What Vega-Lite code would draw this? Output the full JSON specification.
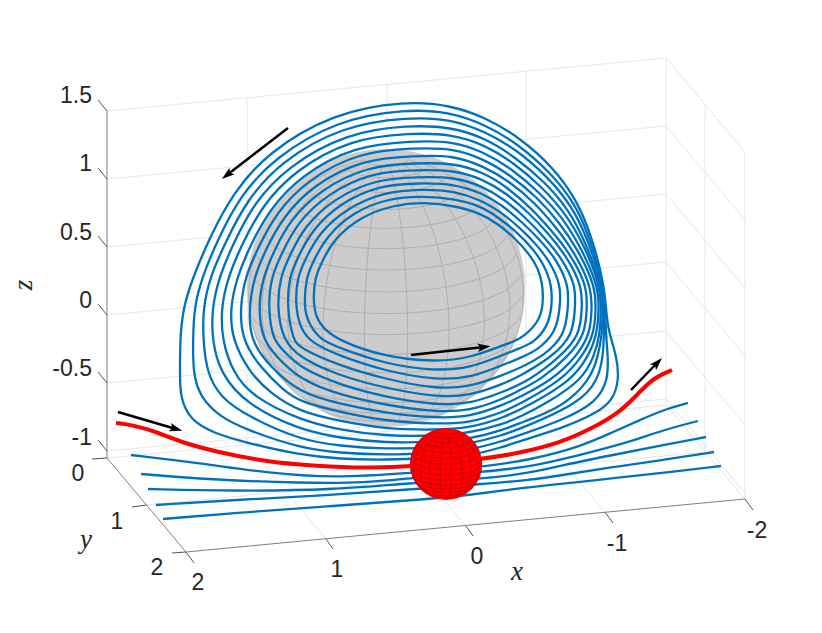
{"$schema":"https://vega.github.io/schema/vega-lite/v6.json","width":822,"height":633,"autosize":{"type":"fit","contains":"padding"},"padding":0,"background":"white","view":{"stroke":null},
"encoding":{"x":{"field":"u","type":"quantitative","scale":{"domain":[0,822],"nice":false,"zero":false},"axis":null},"y":{"field":"v","type":"quantitative","scale":{"domain":[633,0],"nice":false,"zero":false},"axis":null}},
"datasets":{
"frame":[
{"c":"g","u":247,"v":98,"u2":247,"v2":445},{"c":"g","u":387,"v":84,"u2":387,"v2":432},{"c":"g","u":526,"v":71,"u2":526,"v2":419},{"c":"g","u":666,"v":58,"u2":666,"v2":405},
{"c":"g","u":107,"v":111,"u2":666,"v2":58},{"c":"g","u":107,"v":179,"u2":666,"v2":126},{"c":"g","u":107,"v":247,"u2":666,"v2":194},{"c":"g","u":107,"v":315,"u2":666,"v2":262},{"c":"g","u":107,"v":383,"u2":666,"v2":331},{"c":"g","u":107,"v":451,"u2":666,"v2":399},
{"c":"g","u":666,"v":58,"u2":745,"v2":152},{"c":"g","u":666,"v":126,"u2":745,"v2":220},{"c":"g","u":666,"v":194,"u2":745,"v2":288},{"c":"g","u":666,"v":262,"u2":745,"v2":356},{"c":"g","u":666,"v":331,"u2":745,"v2":425},{"c":"g","u":666,"v":399,"u2":745,"v2":493},
{"c":"g","u":705,"v":105,"u2":705,"v2":452},{"c":"g","u":745,"v":152,"u2":745,"v2":499},
{"c":"g","u":247,"v":445,"u2":326,"v2":539},{"c":"g","u":387,"v":432,"u2":466,"v2":526},{"c":"g","u":526,"v":419,"u2":605,"v2":512},{"c":"g","u":666,"v":405,"u2":745,"v2":499},
{"c":"g","u":107,"v":458,"u2":666,"v2":405},{"c":"g","u":146.5,"v":505,"u2":705.5,"v2":452},
{"c":"a","u":107,"v":111,"u2":107,"v2":458},{"c":"a","u":107,"v":458,"u2":186,"v2":552},{"c":"a","u":186,"v":552,"u2":745,"v2":499},
{"c":"t","u":107,"v":111,"u2":98,"v2":100},{"c":"t","u":107,"v":179,"u2":98,"v2":168},{"c":"t","u":107,"v":247,"u2":98,"v2":236},{"c":"t","u":107,"v":315,"u2":98,"v2":304},{"c":"t","u":107,"v":383,"u2":98,"v2":372},{"c":"t","u":107,"v":451,"u2":98,"v2":440},
{"c":"t","u":107,"v":458,"u2":92,"v2":459},{"c":"t","u":146.5,"v":505,"u2":132,"v2":507},{"c":"t","u":186,"v":552,"u2":172,"v2":553},
{"c":"t","u":186,"v":552,"u2":194,"v2":563},{"c":"t","u":326,"v":539,"u2":333,"v2":549},{"c":"t","u":466,"v":526,"u2":473,"v2":536},{"c":"t","u":605,"v":512,"u2":613,"v2":523},{"c":"t","u":745,"v":499,"u2":753,"v2":510}],
"balls":[{"b":"grey","u":386,"v":288,"s":77284},{"b":"red","u":446,"v":464,"s":5184}],
"mesh":[
{"lat":81,"lon":-81,"u":364.6,"v":159.7},{"lat":81,"lon":-63,"u":366.7,"v":161.9},{"lat":81,"lon":-45,"u":370.7,"v":163.8},{"lat":81,"lon":-27,"u":376.1,"v":165.1},{"lat":81,"lon":-9,"u":382.6,"v":165.8},{"lat":81,"lon":9,"u":389.4,"v":165.8},{"lat":81,"lon":27,"u":395.9,"v":165.1},{"lat":81,"lon":45,"u":401.3,"v":163.8},{"lat":81,"lon":63,"u":405.3,"v":161.9},{"lat":81,"lon":81,"u":407.4,"v":159.7},
{"lat":72,"lon":-81,"u":343.5,"v":165.6},{"lat":72,"lon":-63,"u":347.7,"v":169.9},{"lat":72,"lon":-45,"u":355.6,"v":173.6},{"lat":72,"lon":-27,"u":366.5,"v":176.2},{"lat":72,"lon":-9,"u":379.3,"v":177.6},{"lat":72,"lon":9,"u":392.7,"v":177.6},{"lat":72,"lon":27,"u":405.5,"v":176.2},{"lat":72,"lon":45,"u":416.4,"v":173.6},{"lat":72,"lon":63,"u":424.3,"v":169.9},{"lat":72,"lon":81,"u":428.5,"v":165.6},
{"lat":63,"lon":-81,"u":323.7,"v":174.6},{"lat":63,"lon":-63,"u":329.8,"v":180.9},{"lat":63,"lon":-45,"u":341.4,"v":186.3},{"lat":63,"lon":-27,"u":357.4,"v":190.2},{"lat":63,"lon":-9,"u":376.2,"v":192.2},{"lat":63,"lon":9,"u":395.8,"v":192.2},{"lat":63,"lon":27,"u":414.6,"v":190.2},{"lat":63,"lon":45,"u":430.6,"v":186.3},{"lat":63,"lon":63,"u":442.2,"v":180.9},{"lat":63,"lon":81,"u":448.3,"v":174.6},
{"lat":54,"lon":-81,"u":305.3,"v":186.3},{"lat":54,"lon":-63,"u":313.2,"v":194.4},{"lat":54,"lon":-45,"u":328.2,"v":201.4},{"lat":54,"lon":-27,"u":348.9,"v":206.4},{"lat":54,"lon":-9,"u":373.3,"v":209.1},{"lat":54,"lon":9,"u":398.7,"v":209.1},{"lat":54,"lon":27,"u":423.1,"v":206.4},{"lat":54,"lon":45,"u":443.8,"v":201.4},{"lat":54,"lon":63,"u":458.8,"v":194.4},{"lat":54,"lon":81,"u":466.7,"v":186.3},
{"lat":45,"lon":-81,"u":288.9,"v":200.5},{"lat":45,"lon":-63,"u":298.4,"v":210.3},{"lat":45,"lon":-45,"u":316.5,"v":218.7},{"lat":45,"lon":-27,"u":341.4,"v":224.7},{"lat":45,"lon":-9,"u":370.7,"v":227.9},{"lat":45,"lon":9,"u":401.3,"v":227.9},{"lat":45,"lon":27,"u":430.6,"v":224.7},{"lat":45,"lon":45,"u":455.5,"v":218.7},{"lat":45,"lon":63,"u":473.6,"v":210.3},{"lat":45,"lon":81,"u":483.1,"v":200.5},
{"lat":36,"lon":-81,"u":274.8,"v":216.9},{"lat":36,"lon":-63,"u":285.8,"v":228.1},{"lat":36,"lon":-45,"u":306.5,"v":237.7},{"lat":36,"lon":-27,"u":334.9,"v":244.6},{"lat":36,"lon":-9,"u":368.4,"v":248.2},{"lat":36,"lon":9,"u":403.6,"v":248.2},{"lat":36,"lon":27,"u":437.1,"v":244.6},{"lat":36,"lon":45,"u":465.5,"v":237.7},{"lat":36,"lon":63,"u":486.2,"v":228.1},{"lat":36,"lon":81,"u":497.2,"v":216.9},
{"lat":27,"lon":-81,"u":263.7,"v":235},{"lat":27,"lon":-63,"u":275.7,"v":247.3},{"lat":27,"lon":-45,"u":298.5,"v":257.8},{"lat":27,"lon":-27,"u":329.8,"v":265.5},{"lat":27,"lon":-9,"u":366.7,"v":269.5},{"lat":27,"lon":9,"u":405.3,"v":269.5},{"lat":27,"lon":27,"u":442.2,"v":265.5},{"lat":27,"lon":45,"u":473.5,"v":257.8},{"lat":27,"lon":63,"u":496.3,"v":247.3},{"lat":27,"lon":81,"u":508.3,"v":235},
{"lat":18,"lon":-81,"u":255.4,"v":254.4},{"lat":18,"lon":-63,"u":268.2,"v":267.6},{"lat":18,"lon":-45,"u":292.5,"v":278.8},{"lat":18,"lon":-27,"u":326,"v":287},{"lat":18,"lon":-9,"u":365.4,"v":291.3},{"lat":18,"lon":9,"u":406.6,"v":291.3},{"lat":18,"lon":27,"u":446,"v":287},{"lat":18,"lon":45,"u":479.5,"v":278.8},{"lat":18,"lon":63,"u":503.8,"v":267.6},{"lat":18,"lon":81,"u":516.6,"v":254.4},
{"lat":9,"lon":-81,"u":250.3,"v":274.8},{"lat":9,"lon":-63,"u":263.7,"v":288.5},{"lat":9,"lon":-45,"u":288.9,"v":300.1},{"lat":9,"lon":-27,"u":323.7,"v":308.6},{"lat":9,"lon":-9,"u":364.6,"v":313},{"lat":9,"lon":9,"u":407.4,"v":313},{"lat":9,"lon":27,"u":448.3,"v":308.6},{"lat":9,"lon":45,"u":483.1,"v":300.1},{"lat":9,"lon":63,"u":508.3,"v":288.5},{"lat":9,"lon":81,"u":521.7,"v":274.8},
{"lat":0,"lon":-81,"u":248.7,"v":295.3},{"lat":0,"lon":-63,"u":262.2,"v":309.2},{"lat":0,"lon":-45,"u":287.7,"v":320.9},{"lat":0,"lon":-27,"u":322.9,"v":329.5},{"lat":0,"lon":-9,"u":364.3,"v":334},{"lat":0,"lon":9,"u":407.7,"v":334},{"lat":0,"lon":27,"u":449.1,"v":329.5},{"lat":0,"lon":45,"u":484.3,"v":320.9},{"lat":0,"lon":63,"u":509.8,"v":309.2},{"lat":0,"lon":81,"u":523.3,"v":295.3},
{"lat":-9,"lon":-81,"u":250.3,"v":315.6},{"lat":-9,"lon":-63,"u":263.7,"v":329.3},{"lat":-9,"lon":-45,"u":288.9,"v":340.9},{"lat":-9,"lon":-27,"u":323.7,"v":349.4},{"lat":-9,"lon":-9,"u":364.6,"v":353.8},{"lat":-9,"lon":9,"u":407.4,"v":353.8},{"lat":-9,"lon":27,"u":448.3,"v":349.4},{"lat":-9,"lon":45,"u":483.1,"v":340.9},{"lat":-9,"lon":63,"u":508.3,"v":329.3},{"lat":-9,"lon":81,"u":521.7,"v":315.6},
{"lat":-18,"lon":-81,"u":255.4,"v":335.4},{"lat":-18,"lon":-63,"u":268.2,"v":348.6},{"lat":-18,"lon":-45,"u":292.5,"v":359.8},{"lat":-18,"lon":-27,"u":326,"v":368},{"lat":-18,"lon":-9,"u":365.4,"v":372.3},{"lat":-18,"lon":9,"u":406.6,"v":372.3},{"lat":-18,"lon":27,"u":446,"v":368},{"lat":-18,"lon":45,"u":479.5,"v":359.8},{"lat":-18,"lon":63,"u":503.8,"v":348.6},{"lat":-18,"lon":81,"u":516.6,"v":335.4},
{"lat":-27,"lon":-81,"u":263.7,"v":354},{"lat":-27,"lon":-63,"u":275.7,"v":366.3},{"lat":-27,"lon":-45,"u":298.5,"v":376.8},{"lat":-27,"lon":-27,"u":329.8,"v":384.5},{"lat":-27,"lon":-9,"u":366.7,"v":388.5},{"lat":-27,"lon":9,"u":405.3,"v":388.5},{"lat":-27,"lon":27,"u":442.2,"v":384.5},{"lat":-27,"lon":45,"u":473.5,"v":376.8},{"lat":-27,"lon":63,"u":496.3,"v":366.3},{"lat":-27,"lon":81,"u":508.3,"v":354},
{"lat":-36,"lon":-81,"u":274.8,"v":370.9},{"lat":-36,"lon":-63,"u":285.8,"v":382.1},{"lat":-36,"lon":-45,"u":306.5,"v":391.7},{"lat":-36,"lon":-27,"u":334.9,"v":398.6},{"lat":-36,"lon":-9,"u":368.4,"v":402.2},{"lat":-36,"lon":9,"u":403.6,"v":402.2},{"lat":-36,"lon":27,"u":437.1,"v":398.6},{"lat":-36,"lon":45,"u":465.5,"v":391.7},{"lat":-36,"lon":63,"u":486.2,"v":382.1},{"lat":-36,"lon":81,"u":497.2,"v":370.9},
{"lat":-45,"lon":-63,"u":298.4,"v":395.5},{"lat":-45,"lon":-45,"u":316.5,"v":403.9},{"lat":-45,"lon":-27,"u":341.4,"v":409.9},{"lat":-45,"lon":-9,"u":370.7,"v":413.1},{"lat":-45,"lon":9,"u":401.3,"v":413.1},{"lat":-45,"lon":27,"u":430.6,"v":409.9},{"lat":-45,"lon":45,"u":455.5,"v":403.9},{"lat":-45,"lon":63,"u":473.6,"v":395.5},
{"lat":-54,"lon":-45,"u":328.2,"v":413.4},{"lat":-54,"lon":-27,"u":348.9,"v":418.4},{"lat":-54,"lon":-9,"u":373.3,"v":421.1},{"lat":-54,"lon":9,"u":398.7,"v":421.1},{"lat":-54,"lon":27,"u":423.1,"v":418.4},{"lat":-54,"lon":45,"u":443.8,"v":413.4}],
"ballmesh":[
{"lat":72,"lon":-81,"u":435,"v":431.3},{"lat":72,"lon":-63,"u":436.1,"v":432.4},{"lat":72,"lon":-45,"u":438.1,"v":433.4},{"lat":72,"lon":-27,"u":440.9,"v":434},{"lat":72,"lon":-9,"u":444.3,"v":434.4},{"lat":72,"lon":9,"u":447.7,"v":434.4},{"lat":72,"lon":27,"u":451.1,"v":434},{"lat":72,"lon":45,"u":453.9,"v":433.4},{"lat":72,"lon":63,"u":455.9,"v":432.4},{"lat":72,"lon":81,"u":457,"v":431.3},
{"lat":63,"lon":-81,"u":429.9,"v":433.6},{"lat":63,"lon":-63,"u":431.4,"v":435.3},{"lat":63,"lon":-45,"u":434.4,"v":436.7},{"lat":63,"lon":-27,"u":438.6,"v":437.7},{"lat":63,"lon":-9,"u":443.5,"v":438.2},{"lat":63,"lon":9,"u":448.5,"v":438.2},{"lat":63,"lon":27,"u":453.4,"v":437.7},{"lat":63,"lon":45,"u":457.6,"v":436.7},{"lat":63,"lon":63,"u":460.6,"v":435.3},{"lat":63,"lon":81,"u":462.1,"v":433.6},
{"lat":54,"lon":-81,"u":425.1,"v":436.7},{"lat":54,"lon":-63,"u":427.1,"v":438.8},{"lat":54,"lon":-45,"u":431,"v":440.6},{"lat":54,"lon":-27,"u":436.4,"v":441.9},{"lat":54,"lon":-9,"u":442.7,"v":442.6},{"lat":54,"lon":9,"u":449.3,"v":442.6},{"lat":54,"lon":27,"u":455.6,"v":441.9},{"lat":54,"lon":45,"u":461,"v":440.6},{"lat":54,"lon":63,"u":464.9,"v":438.8},{"lat":54,"lon":81,"u":466.9,"v":436.7},
{"lat":45,"lon":-81,"u":420.9,"v":440.3},{"lat":45,"lon":-63,"u":423.3,"v":442.9},{"lat":45,"lon":-45,"u":428,"v":445.1},{"lat":45,"lon":-27,"u":434.4,"v":446.6},{"lat":45,"lon":-9,"u":442,"v":447.4},{"lat":45,"lon":9,"u":450,"v":447.4},{"lat":45,"lon":27,"u":457.6,"v":446.6},{"lat":45,"lon":45,"u":464,"v":445.1},{"lat":45,"lon":63,"u":468.7,"v":442.9},{"lat":45,"lon":81,"u":471.1,"v":440.3},
{"lat":36,"lon":-81,"u":417.2,"v":444.6},{"lat":36,"lon":-63,"u":420,"v":447.5},{"lat":36,"lon":-45,"u":425.4,"v":450},{"lat":36,"lon":-27,"u":432.8,"v":451.8},{"lat":36,"lon":-9,"u":441.4,"v":452.7},{"lat":36,"lon":9,"u":450.6,"v":452.7},{"lat":36,"lon":27,"u":459.2,"v":451.8},{"lat":36,"lon":45,"u":466.6,"v":450},{"lat":36,"lon":63,"u":472,"v":447.5},{"lat":36,"lon":81,"u":474.8,"v":444.6},
{"lat":27,"lon":-81,"u":414.3,"v":449.3},{"lat":27,"lon":-63,"u":417.4,"v":452.5},{"lat":27,"lon":-45,"u":423.3,"v":455.2},{"lat":27,"lon":-27,"u":431.4,"v":457.2},{"lat":27,"lon":-9,"u":441,"v":458.2},{"lat":27,"lon":9,"u":451,"v":458.2},{"lat":27,"lon":27,"u":460.6,"v":457.2},{"lat":27,"lon":45,"u":468.7,"v":455.2},{"lat":27,"lon":63,"u":474.6,"v":452.5},{"lat":27,"lon":81,"u":477.7,"v":449.3},
{"lat":18,"lon":-81,"u":412.2,"v":454.3},{"lat":18,"lon":-63,"u":415.5,"v":457.7},{"lat":18,"lon":-45,"u":421.8,"v":460.6},{"lat":18,"lon":-27,"u":430.5,"v":462.7},{"lat":18,"lon":-9,"u":440.7,"v":463.9},{"lat":18,"lon":9,"u":451.3,"v":463.9},{"lat":18,"lon":27,"u":461.5,"v":462.7},{"lat":18,"lon":45,"u":470.2,"v":460.6},{"lat":18,"lon":63,"u":476.5,"v":457.7},{"lat":18,"lon":81,"u":479.8,"v":454.3},
{"lat":9,"lon":-81,"u":410.9,"v":459.6},{"lat":9,"lon":-63,"u":414.3,"v":463.1},{"lat":9,"lon":-45,"u":420.9,"v":466.1},{"lat":9,"lon":-27,"u":429.9,"v":468.3},{"lat":9,"lon":-9,"u":440.5,"v":469.5},{"lat":9,"lon":9,"u":451.5,"v":469.5},{"lat":9,"lon":27,"u":462.1,"v":468.3},{"lat":9,"lon":45,"u":471.1,"v":466.1},{"lat":9,"lon":63,"u":477.7,"v":463.1},{"lat":9,"lon":81,"u":481.1,"v":459.6},
{"lat":0,"lon":-81,"u":410.4,"v":464.9},{"lat":0,"lon":-63,"u":413.9,"v":468.5},{"lat":0,"lon":-45,"u":420.5,"v":471.5},{"lat":0,"lon":-27,"u":429.7,"v":473.7},{"lat":0,"lon":-9,"u":440.4,"v":474.9},{"lat":0,"lon":9,"u":451.6,"v":474.9},{"lat":0,"lon":27,"u":462.3,"v":473.7},{"lat":0,"lon":45,"u":471.5,"v":471.5},{"lat":0,"lon":63,"u":478.1,"v":468.5},{"lat":0,"lon":81,"u":481.6,"v":464.9},
{"lat":-9,"lon":-81,"u":410.9,"v":470.1},{"lat":-9,"lon":-63,"u":414.3,"v":473.7},{"lat":-9,"lon":-45,"u":420.9,"v":476.7},{"lat":-9,"lon":-27,"u":429.9,"v":478.9},{"lat":-9,"lon":-9,"u":440.5,"v":480},{"lat":-9,"lon":9,"u":451.5,"v":480},{"lat":-9,"lon":27,"u":462.1,"v":478.9},{"lat":-9,"lon":45,"u":471.1,"v":476.7},{"lat":-9,"lon":63,"u":477.7,"v":473.7},{"lat":-9,"lon":81,"u":481.1,"v":470.1},
{"lat":-18,"lon":-81,"u":412.2,"v":475.3},{"lat":-18,"lon":-63,"u":415.5,"v":478.7},{"lat":-18,"lon":-45,"u":421.8,"v":481.6},{"lat":-18,"lon":-27,"u":430.5,"v":483.7},{"lat":-18,"lon":-9,"u":440.7,"v":484.8},{"lat":-18,"lon":9,"u":451.3,"v":484.8},{"lat":-18,"lon":27,"u":461.5,"v":483.7},{"lat":-18,"lon":45,"u":470.2,"v":481.6},{"lat":-18,"lon":63,"u":476.5,"v":478.7},{"lat":-18,"lon":81,"u":479.8,"v":475.3},
{"lat":-27,"lon":-81,"u":414.3,"v":480.1},{"lat":-27,"lon":-63,"u":417.4,"v":483.3},{"lat":-27,"lon":-45,"u":423.3,"v":486},{"lat":-27,"lon":-27,"u":431.4,"v":488},{"lat":-27,"lon":-9,"u":441,"v":489},{"lat":-27,"lon":9,"u":451,"v":489},{"lat":-27,"lon":27,"u":460.6,"v":488},{"lat":-27,"lon":45,"u":468.7,"v":486},{"lat":-27,"lon":63,"u":474.6,"v":483.3},{"lat":-27,"lon":81,"u":477.7,"v":480.1},
{"lat":-36,"lon":-81,"u":417.2,"v":484.5},{"lat":-36,"lon":-63,"u":420,"v":487.4},{"lat":-36,"lon":-45,"u":425.4,"v":489.9},{"lat":-36,"lon":-27,"u":432.8,"v":491.6},{"lat":-36,"lon":-9,"u":441.4,"v":492.6},{"lat":-36,"lon":9,"u":450.6,"v":492.6},{"lat":-36,"lon":27,"u":459.2,"v":491.6},{"lat":-36,"lon":45,"u":466.6,"v":489.9},{"lat":-36,"lon":63,"u":472,"v":487.4},{"lat":-36,"lon":81,"u":474.8,"v":484.5},
{"lat":-45,"lon":-63,"u":423.3,"v":490.8},{"lat":-45,"lon":-45,"u":428,"v":493},{"lat":-45,"lon":-27,"u":434.4,"v":494.6},{"lat":-45,"lon":-9,"u":442,"v":495.4},{"lat":-45,"lon":9,"u":450,"v":495.4},{"lat":-45,"lon":27,"u":457.6,"v":494.6},{"lat":-45,"lon":45,"u":464,"v":493},{"lat":-45,"lon":63,"u":468.7,"v":490.8},
{"lat":-54,"lon":-45,"u":431,"v":495.5},{"lat":-54,"lon":-27,"u":436.4,"v":496.8},{"lat":-54,"lon":-9,"u":442.7,"v":497.5},{"lat":-54,"lon":9,"u":449.3,"v":497.5},{"lat":-54,"lon":27,"u":455.6,"v":496.8},{"lat":-54,"lon":45,"u":461,"v":495.5}],
"loops":[
{"k":0,"i":0,"u":435,"v":458},{"k":0,"i":1,"u":385,"v":460},{"k":0,"i":2,"u":340,"v":459},{"k":0,"i":3,"u":300,"v":455},{"k":0,"i":4,"u":247,"v":443},{"k":0,"i":5,"u":213,"v":433},{"k":0,"i":6,"u":190,"v":420},{"k":0,"i":7,"u":180,"v":397},{"k":0,"i":8,"u":180,"v":373},{"k":0,"i":9,"u":180,"v":340},{"k":0,"i":10,"u":183,"v":308},{"k":0,"i":11,"u":193,"v":277},{"k":0,"i":12,"u":210,"v":237},{"k":0,"i":13,"u":233,"v":193},{"k":0,"i":14,"u":267,"v":153},{"k":0,"i":15,"u":333,"v":113},{"k":0,"i":16,"u":405,"v":101},{"k":0,"i":17,"u":450,"v":105},{"k":0,"i":18,"u":487,"v":118},{"k":0,"i":19,"u":520,"v":138},{"k":0,"i":20,"u":553,"v":167},{"k":0,"i":21,"u":577,"v":200},{"k":0,"i":22,"u":593,"v":240},{"k":0,"i":23,"u":604,"v":285},{"k":0,"i":24,"u":606,"v":308},{"k":0,"i":25,"u":608,"v":330},{"k":0,"i":26,"u":617,"v":357},{"k":0,"i":27,"u":619,"v":380},{"k":0,"i":28,"u":613,"v":400},{"k":0,"i":29,"u":597,"v":413},{"k":0,"i":30,"u":563,"v":428},{"k":0,"i":31,"u":520,"v":441},{"k":0,"i":32,"u":503,"v":447},{"k":0,"i":33,"u":470,"v":456},
{"k":1,"i":0,"u":435,"v":453},{"k":1,"i":1,"u":385,"v":455},{"k":1,"i":2,"u":340,"v":453},{"k":1,"i":3,"u":300,"v":448},{"k":1,"i":4,"u":247,"v":430},{"k":1,"i":5,"u":220,"v":417},{"k":1,"i":6,"u":200,"v":397},{"k":1,"i":7,"u":193,"v":373},{"k":1,"i":8,"u":193,"v":340},{"k":1,"i":9,"u":194,"v":308},{"k":1,"i":10,"u":202,"v":277},{"k":1,"i":11,"u":218,"v":239},{"k":1,"i":12,"u":240,"v":196},{"k":1,"i":13,"u":274,"v":158},{"k":1,"i":14,"u":337,"v":120},{"k":1,"i":15,"u":406,"v":109},{"k":1,"i":16,"u":450,"v":112},{"k":1,"i":17,"u":486,"v":125},{"k":1,"i":18,"u":518,"v":144},{"k":1,"i":19,"u":550,"v":172},{"k":1,"i":20,"u":575,"v":203},{"k":1,"i":21,"u":591,"v":241},{"k":1,"i":22,"u":603,"v":285},{"k":1,"i":23,"u":605,"v":308},{"k":1,"i":24,"u":606,"v":335},{"k":1,"i":25,"u":608,"v":357},{"k":1,"i":26,"u":608,"v":380},{"k":1,"i":27,"u":597,"v":402},{"k":1,"i":28,"u":563,"v":420},{"k":1,"i":29,"u":520,"v":435},{"k":1,"i":30,"u":503,"v":441},{"k":1,"i":31,"u":470,"v":450},
{"k":2,"i":0,"u":435,"v":448},{"k":2,"i":1,"u":385,"v":449},{"k":2,"i":2,"u":340,"v":446},{"k":2,"i":3,"u":300,"v":440},{"k":2,"i":4,"u":247,"v":416},{"k":2,"i":5,"u":220,"v":397},{"k":2,"i":6,"u":207,"v":373},{"k":2,"i":7,"u":203,"v":340},{"k":2,"i":8,"u":203,"v":308},{"k":2,"i":9,"u":210,"v":277},{"k":2,"i":10,"u":226,"v":241},{"k":2,"i":11,"u":247,"v":200},{"k":2,"i":12,"u":280,"v":162},{"k":2,"i":13,"u":342,"v":126},{"k":2,"i":14,"u":408,"v":117},{"k":2,"i":15,"u":451,"v":119},{"k":2,"i":16,"u":486,"v":132},{"k":2,"i":17,"u":517,"v":150},{"k":2,"i":18,"u":548,"v":177},{"k":2,"i":19,"u":572,"v":206},{"k":2,"i":20,"u":589,"v":242},{"k":2,"i":21,"u":602,"v":285},{"k":2,"i":22,"u":604,"v":308},{"k":2,"i":23,"u":604,"v":335},{"k":2,"i":24,"u":603,"v":357},{"k":2,"i":25,"u":598,"v":380},{"k":2,"i":26,"u":580,"v":403},{"k":2,"i":27,"u":520,"v":429},{"k":2,"i":28,"u":503,"v":435},{"k":2,"i":29,"u":470,"v":444},
{"k":3,"i":0,"u":435,"v":442},{"k":3,"i":1,"u":385,"v":443},{"k":3,"i":2,"u":340,"v":438},{"k":3,"i":3,"u":300,"v":430},{"k":3,"i":4,"u":247,"v":405},{"k":3,"i":5,"u":220,"v":373},{"k":3,"i":6,"u":212,"v":340},{"k":3,"i":7,"u":212,"v":308},{"k":3,"i":8,"u":219,"v":277},{"k":3,"i":9,"u":234,"v":242},{"k":3,"i":10,"u":254,"v":203},{"k":3,"i":11,"u":287,"v":167},{"k":3,"i":12,"u":346,"v":133},{"k":3,"i":13,"u":409,"v":125},{"k":3,"i":14,"u":451,"v":127},{"k":3,"i":15,"u":485,"v":138},{"k":3,"i":16,"u":515,"v":157},{"k":3,"i":17,"u":545,"v":182},{"k":3,"i":18,"u":569,"v":210},{"k":3,"i":19,"u":586,"v":243},{"k":3,"i":20,"u":601,"v":285},{"k":3,"i":21,"u":603,"v":308},{"k":3,"i":22,"u":602,"v":335},{"k":3,"i":23,"u":598,"v":357},{"k":3,"i":24,"u":590,"v":380},{"k":3,"i":25,"u":563,"v":407},{"k":3,"i":26,"u":520,"v":423},{"k":3,"i":27,"u":503,"v":430},{"k":3,"i":28,"u":470,"v":439},
{"k":4,"i":0,"u":435,"v":436},{"k":4,"i":1,"u":385,"v":436},{"k":4,"i":2,"u":340,"v":430},{"k":4,"i":3,"u":300,"v":420},{"k":4,"i":4,"u":253,"v":397},{"k":4,"i":5,"u":233,"v":373},{"k":4,"i":6,"u":222,"v":340},{"k":4,"i":7,"u":221,"v":308},{"k":4,"i":8,"u":228,"v":277},{"k":4,"i":9,"u":242,"v":244},{"k":4,"i":10,"u":262,"v":206},{"k":4,"i":11,"u":294,"v":171},{"k":4,"i":12,"u":350,"v":139},{"k":4,"i":13,"u":411,"v":133},{"k":4,"i":14,"u":451,"v":134},{"k":4,"i":15,"u":485,"v":145},{"k":4,"i":16,"u":514,"v":163},{"k":4,"i":17,"u":542,"v":187},{"k":4,"i":18,"u":566,"v":214},{"k":4,"i":19,"u":584,"v":245},{"k":4,"i":20,"u":600,"v":285},{"k":4,"i":21,"u":601,"v":308},{"k":4,"i":22,"u":600,"v":335},{"k":4,"i":23,"u":594,"v":357},{"k":4,"i":24,"u":582,"v":380},{"k":4,"i":25,"u":547,"v":403},{"k":4,"i":26,"u":520,"v":417},{"k":4,"i":27,"u":503,"v":424},{"k":4,"i":28,"u":470,"v":433},
{"k":5,"i":0,"u":435,"v":430},{"k":5,"i":1,"u":385,"v":429},{"k":5,"i":2,"u":340,"v":421},{"k":5,"i":3,"u":300,"v":412},{"k":5,"i":4,"u":270,"v":393},{"k":5,"i":5,"u":250,"v":373},{"k":5,"i":6,"u":232,"v":340},{"k":5,"i":7,"u":230,"v":308},{"k":5,"i":8,"u":237,"v":277},{"k":5,"i":9,"u":250,"v":246},{"k":5,"i":10,"u":269,"v":210},{"k":5,"i":11,"u":300,"v":176},{"k":5,"i":12,"u":354,"v":146},{"k":5,"i":13,"u":412,"v":141},{"k":5,"i":14,"u":452,"v":141},{"k":5,"i":15,"u":484,"v":152},{"k":5,"i":16,"u":512,"v":169},{"k":5,"i":17,"u":539,"v":192},{"k":5,"i":18,"u":563,"v":218},{"k":5,"i":19,"u":580,"v":246},{"k":5,"i":20,"u":598,"v":285},{"k":5,"i":21,"u":599,"v":308},{"k":5,"i":22,"u":597,"v":335},{"k":5,"i":23,"u":588,"v":357},{"k":5,"i":24,"u":572,"v":380},{"k":5,"i":25,"u":530,"v":405},{"k":5,"i":26,"u":503,"v":418},{"k":5,"i":27,"u":470,"v":428},
{"k":6,"i":0,"u":435,"v":424},{"k":6,"i":1,"u":385,"v":421},{"k":6,"i":2,"u":340,"v":412},{"k":6,"i":3,"u":300,"v":402},{"k":6,"i":4,"u":283,"v":390},{"k":6,"i":5,"u":260,"v":367},{"k":6,"i":6,"u":242,"v":340},{"k":6,"i":7,"u":240,"v":308},{"k":6,"i":8,"u":245,"v":277},{"k":6,"i":9,"u":258,"v":248},{"k":6,"i":10,"u":276,"v":213},{"k":6,"i":11,"u":307,"v":180},{"k":6,"i":12,"u":359,"v":152},{"k":6,"i":13,"u":414,"v":148},{"k":6,"i":14,"u":452,"v":148},{"k":6,"i":15,"u":484,"v":159},{"k":6,"i":16,"u":510,"v":175},{"k":6,"i":17,"u":537,"v":197},{"k":6,"i":18,"u":559,"v":222},{"k":6,"i":19,"u":577,"v":248},{"k":6,"i":20,"u":595,"v":285},{"k":6,"i":21,"u":596,"v":308},{"k":6,"i":22,"u":594,"v":335},{"k":6,"i":23,"u":582,"v":357},{"k":6,"i":24,"u":562,"v":380},{"k":6,"i":25,"u":520,"v":404},{"k":6,"i":26,"u":503,"v":412},{"k":6,"i":27,"u":470,"v":423},
{"k":7,"i":0,"u":435,"v":418},{"k":7,"i":1,"u":385,"v":413},{"k":7,"i":2,"u":340,"v":404},{"k":7,"i":3,"u":300,"v":393},{"k":7,"i":4,"u":270,"v":367},{"k":7,"i":5,"u":250,"v":340},{"k":7,"i":6,"u":249,"v":308},{"k":7,"i":7,"u":254,"v":277},{"k":7,"i":8,"u":266,"v":249},{"k":7,"i":9,"u":283,"v":217},{"k":7,"i":10,"u":313,"v":185},{"k":7,"i":11,"u":363,"v":159},{"k":7,"i":12,"u":415,"v":156},{"k":7,"i":13,"u":452,"v":155},{"k":7,"i":14,"u":483,"v":166},{"k":7,"i":15,"u":509,"v":181},{"k":7,"i":16,"u":534,"v":202},{"k":7,"i":17,"u":555,"v":226},{"k":7,"i":18,"u":573,"v":250},{"k":7,"i":19,"u":591,"v":285},{"k":7,"i":20,"u":592,"v":308},{"k":7,"i":21,"u":590,"v":335},{"k":7,"i":22,"u":576,"v":357},{"k":7,"i":23,"u":552,"v":380},{"k":7,"i":24,"u":520,"v":397},{"k":7,"i":25,"u":503,"v":405},{"k":7,"i":26,"u":470,"v":417},
{"k":8,"i":0,"u":435,"v":412},{"k":8,"i":1,"u":385,"v":405},{"k":8,"i":2,"u":340,"v":395},{"k":8,"i":3,"u":300,"v":380},{"k":8,"i":4,"u":275,"v":355},{"k":8,"i":5,"u":263,"v":340},{"k":8,"i":6,"u":258,"v":308},{"k":8,"i":7,"u":263,"v":277},{"k":8,"i":8,"u":274,"v":251},{"k":8,"i":9,"u":290,"v":220},{"k":8,"i":10,"u":320,"v":190},{"k":8,"i":11,"u":367,"v":166},{"k":8,"i":12,"u":417,"v":163},{"k":8,"i":13,"u":453,"v":163},{"k":8,"i":14,"u":483,"v":172},{"k":8,"i":15,"u":507,"v":187},{"k":8,"i":16,"u":531,"v":208},{"k":8,"i":17,"u":551,"v":230},{"k":8,"i":18,"u":569,"v":252},{"k":8,"i":19,"u":587,"v":285},{"k":8,"i":20,"u":587,"v":308},{"k":8,"i":21,"u":585,"v":335},{"k":8,"i":22,"u":568,"v":357},{"k":8,"i":23,"u":540,"v":380},{"k":8,"i":24,"u":520,"v":390},{"k":8,"i":25,"u":503,"v":399},{"k":8,"i":26,"u":470,"v":411},
{"k":9,"i":0,"u":435,"v":405},{"k":9,"i":1,"u":385,"v":397},{"k":9,"i":2,"u":340,"v":385},{"k":9,"i":3,"u":300,"v":368},{"k":9,"i":4,"u":283,"v":350},{"k":9,"i":5,"u":273,"v":340},{"k":9,"i":6,"u":268,"v":308},{"k":9,"i":7,"u":271,"v":277},{"k":9,"i":8,"u":282,"v":253},{"k":9,"i":9,"u":297,"v":223},{"k":9,"i":10,"u":327,"v":194},{"k":9,"i":11,"u":372,"v":172},{"k":9,"i":12,"u":418,"v":170},{"k":9,"i":13,"u":453,"v":170},{"k":9,"i":14,"u":483,"v":179},{"k":9,"i":15,"u":506,"v":193},{"k":9,"i":16,"u":529,"v":213},{"k":9,"i":17,"u":548,"v":233},{"k":9,"i":18,"u":565,"v":254},{"k":9,"i":19,"u":582,"v":285},{"k":9,"i":20,"u":582,"v":308},{"k":9,"i":21,"u":580,"v":335},{"k":9,"i":22,"u":560,"v":357},{"k":9,"i":23,"u":530,"v":380},{"k":9,"i":24,"u":503,"v":392},{"k":9,"i":25,"u":470,"v":404},
{"k":10,"i":0,"u":435,"v":397},{"k":10,"i":1,"u":385,"v":388},{"k":10,"i":2,"u":340,"v":376},{"k":10,"i":3,"u":300,"v":358},{"k":10,"i":4,"u":283,"v":340},{"k":10,"i":5,"u":277,"v":308},{"k":10,"i":6,"u":280,"v":277},{"k":10,"i":7,"u":290,"v":255},{"k":10,"i":8,"u":304,"v":227},{"k":10,"i":9,"u":333,"v":199},{"k":10,"i":10,"u":376,"v":179},{"k":10,"i":11,"u":419,"v":177},{"k":10,"i":12,"u":454,"v":177},{"k":10,"i":13,"u":482,"v":186},{"k":10,"i":14,"u":504,"v":199},{"k":10,"i":15,"u":526,"v":218},{"k":10,"i":16,"u":544,"v":237},{"k":10,"i":17,"u":561,"v":257},{"k":10,"i":18,"u":576,"v":285},{"k":10,"i":19,"u":575,"v":308},{"k":10,"i":20,"u":573,"v":335},{"k":10,"i":21,"u":552,"v":357},{"k":10,"i":22,"u":520,"v":376},{"k":10,"i":23,"u":503,"v":384},{"k":10,"i":24,"u":470,"v":396},
{"k":11,"i":0,"u":435,"v":389},{"k":11,"i":1,"u":385,"v":379},{"k":11,"i":2,"u":340,"v":366},{"k":11,"i":3,"u":300,"v":348},{"k":11,"i":4,"u":293,"v":340},{"k":11,"i":5,"u":287,"v":308},{"k":11,"i":6,"u":289,"v":277},{"k":11,"i":7,"u":298,"v":257},{"k":11,"i":8,"u":312,"v":230},{"k":11,"i":9,"u":340,"v":203},{"k":11,"i":10,"u":380,"v":185},{"k":11,"i":11,"u":421,"v":183},{"k":11,"i":12,"u":454,"v":184},{"k":11,"i":13,"u":482,"v":193},{"k":11,"i":14,"u":502,"v":205},{"k":11,"i":15,"u":523,"v":223},{"k":11,"i":16,"u":541,"v":241},{"k":11,"i":17,"u":556,"v":259},{"k":11,"i":18,"u":569,"v":285},{"k":11,"i":19,"u":568,"v":308},{"k":11,"i":20,"u":565,"v":335},{"k":11,"i":21,"u":545,"v":355},{"k":11,"i":22,"u":520,"v":368},{"k":11,"i":23,"u":503,"v":375},{"k":11,"i":24,"u":470,"v":387},
{"k":12,"i":0,"u":435,"v":380},{"k":12,"i":1,"u":385,"v":371},{"k":12,"i":2,"u":340,"v":356},{"k":12,"i":3,"u":303,"v":340},{"k":12,"i":4,"u":295,"v":308},{"k":12,"i":5,"u":297,"v":277},{"k":12,"i":6,"u":306,"v":258},{"k":12,"i":7,"u":319,"v":233},{"k":12,"i":8,"u":347,"v":208},{"k":12,"i":9,"u":384,"v":192},{"k":12,"i":10,"u":422,"v":189},{"k":12,"i":11,"u":454,"v":191},{"k":12,"i":12,"u":481,"v":200},{"k":12,"i":13,"u":501,"v":212},{"k":12,"i":14,"u":520,"v":228},{"k":12,"i":15,"u":537,"v":245},{"k":12,"i":16,"u":550,"v":262},{"k":12,"i":17,"u":561,"v":285},{"k":12,"i":18,"u":560,"v":308},{"k":12,"i":19,"u":556,"v":332},{"k":12,"i":20,"u":538,"v":350},{"k":12,"i":21,"u":520,"v":358},{"k":12,"i":22,"u":503,"v":365},{"k":12,"i":23,"u":470,"v":378},
{"k":13,"i":0,"u":435,"v":371},{"k":13,"i":1,"u":385,"v":364},{"k":13,"i":2,"u":340,"v":348},{"k":13,"i":3,"u":320,"v":340},{"k":13,"i":4,"u":308,"v":322},{"k":13,"i":5,"u":304,"v":308},{"k":13,"i":6,"u":306,"v":277},{"k":13,"i":7,"u":314,"v":260},{"k":13,"i":8,"u":326,"v":237},{"k":13,"i":9,"u":353,"v":212},{"k":13,"i":10,"u":389,"v":198},{"k":13,"i":11,"u":424,"v":196},{"k":13,"i":12,"u":455,"v":199},{"k":13,"i":13,"u":481,"v":206},{"k":13,"i":14,"u":499,"v":218},{"k":13,"i":15,"u":518,"v":233},{"k":13,"i":16,"u":534,"v":250},{"k":13,"i":17,"u":544,"v":265},{"k":13,"i":18,"u":552,"v":285},{"k":13,"i":19,"u":552,"v":308},{"k":13,"i":20,"u":547,"v":328},{"k":13,"i":21,"u":533,"v":343},{"k":13,"i":22,"u":520,"v":348},{"k":13,"i":23,"u":503,"v":355},{"k":13,"i":24,"u":470,"v":368},
{"k":14,"i":0,"u":435,"v":362},{"k":14,"i":1,"u":385,"v":357},{"k":14,"i":2,"u":340,"v":341},{"k":14,"i":3,"u":325,"v":330},{"k":14,"i":4,"u":316,"v":318},{"k":14,"i":5,"u":313,"v":300},{"k":14,"i":6,"u":315,"v":277},{"k":14,"i":7,"u":322,"v":262},{"k":14,"i":8,"u":333,"v":240},{"k":14,"i":9,"u":360,"v":217},{"k":14,"i":10,"u":393,"v":205},{"k":14,"i":11,"u":425,"v":202},{"k":14,"i":12,"u":455,"v":206},{"k":14,"i":13,"u":480,"v":213},{"k":14,"i":14,"u":498,"v":224},{"k":14,"i":15,"u":515,"v":238},{"k":14,"i":16,"u":530,"v":255},{"k":14,"i":17,"u":538,"v":268},{"k":14,"i":18,"u":543,"v":285},{"k":14,"i":19,"u":543,"v":308},{"k":14,"i":20,"u":538,"v":323},{"k":14,"i":21,"u":520,"v":340},{"k":14,"i":22,"u":503,"v":345},{"k":14,"i":23,"u":470,"v":358}],
"streams":[
{"k":1,"i":0,"u":131,"v":455},{"k":1,"i":1,"u":200,"v":463},{"k":1,"i":2,"u":267,"v":473},{"k":1,"i":3,"u":333,"v":478},{"k":1,"i":4,"u":410,"v":473},{"k":1,"i":5,"u":482,"v":467},{"k":1,"i":6,"u":530,"v":460},{"k":1,"i":7,"u":580,"v":447},{"k":1,"i":8,"u":613,"v":432},{"k":1,"i":9,"u":640,"v":420},{"k":1,"i":10,"u":663,"v":410},{"k":1,"i":11,"u":688,"v":403},
{"k":2,"i":0,"u":141,"v":474},{"k":2,"i":1,"u":217,"v":480},{"k":2,"i":2,"u":300,"v":483},{"k":2,"i":3,"u":367,"v":483},{"k":2,"i":4,"u":410,"v":478},{"k":2,"i":5,"u":482,"v":472},{"k":2,"i":6,"u":530,"v":467},{"k":2,"i":7,"u":580,"v":455},{"k":2,"i":8,"u":630,"v":442},{"k":2,"i":9,"u":663,"v":430},{"k":2,"i":10,"u":698,"v":421},
{"k":3,"i":0,"u":148,"v":489},{"k":3,"i":1,"u":233,"v":491},{"k":3,"i":2,"u":333,"v":490},{"k":3,"i":3,"u":410,"v":483},{"k":3,"i":4,"u":482,"v":479},{"k":3,"i":5,"u":530,"v":473},{"k":3,"i":6,"u":563,"v":465},{"k":3,"i":7,"u":613,"v":455},{"k":3,"i":8,"u":663,"v":445},{"k":3,"i":9,"u":706,"v":437},
{"k":4,"i":0,"u":156,"v":505},{"k":4,"i":1,"u":233,"v":500},{"k":4,"i":2,"u":333,"v":495},{"k":4,"i":3,"u":430,"v":488},{"k":4,"i":4,"u":482,"v":484},{"k":4,"i":5,"u":530,"v":480},{"k":4,"i":6,"u":563,"v":475},{"k":4,"i":7,"u":613,"v":467},{"k":4,"i":8,"u":663,"v":460},{"k":4,"i":9,"u":714,"v":452},
{"k":5,"i":0,"u":163,"v":519},{"k":5,"i":1,"u":233,"v":513},{"k":5,"i":2,"u":333,"v":506},{"k":5,"i":3,"u":430,"v":499},{"k":5,"i":4,"u":470,"v":495},{"k":5,"i":5,"u":520,"v":488},{"k":5,"i":6,"u":580,"v":482},{"k":5,"i":7,"u":613,"v":478},{"k":5,"i":8,"u":663,"v":473},{"k":5,"i":9,"u":721,"v":466}],
"redline":[
{"i":0,"u":116,"v":423},{"i":1,"u":133,"v":425},{"i":2,"u":157,"v":432},{"i":3,"u":180,"v":442},{"i":4,"u":217,"v":452},{"i":5,"u":267,"v":462},{"i":6,"u":317,"v":466},{"i":7,"u":367,"v":468},{"i":8,"u":410,"v":467},{"i":9,"u":483,"v":459},{"i":10,"u":520,"v":453},{"i":11,"u":560,"v":443},{"i":12,"u":593,"v":428},{"i":13,"u":620,"v":412},{"i":14,"u":637,"v":395},{"i":15,"u":653,"v":378},{"i":16,"u":672,"v":370}],
"shafts":[{"u":288,"v":128,"u2":227,"v2":175},{"u":118,"v":412,"u2":176,"v2":429},{"u":411,"v":355,"u2":484,"v2":347},{"u":631,"v":390,"u2":657,"v2":363}],
"heads":[{"u":227,"v":175,"a":232},{"u":176,"v":429,"a":106.5},{"u":484,"v":347,"a":83},{"u":657.5,"v":362.7,"a":44}],
"ticks":[
{"t":"1.5","u":92,"v":96},{"t":"1","u":92,"v":164},{"t":"0.5","u":92,"v":233},{"t":"0","u":92,"v":301},{"t":"-0.5","u":92,"v":369},{"t":"-1","u":92,"v":438}],
"ticks2":[
{"t":"2","u":198,"v":583},{"t":"1","u":337,"v":570},{"t":"0","u":477,"v":557},{"t":"-1","u":617,"v":544},{"t":"-2","u":757,"v":531},
{"t":"0","u":78,"v":474},{"t":"1","u":117,"v":522},{"t":"2","u":157,"v":568}],
"letters":[{"t":"x","u":517,"v":572},{"t":"y","u":86,"v":540}],
"letterz":[{"t":"z","u":24,"v":285}]
},
"layer":[
{"data":{"name":"frame"},"mark":{"type":"rule","strokeWidth":1},"encoding":{"x2":{"field":"u2"},"y2":{"field":"v2"},"color":{"field":"c","type":"nominal","legend":null,"scale":{"domain":["g","a","t"],"range":["#e6e6e6","#808080","#555555"]}}}},
{"data":{"name":"balls"},"transform":[{"filter":"datum.b=='grey'"}],"mark":{"type":"point","filled":true,"shape":"circle","color":"#cccccc","opacity":1},"encoding":{"size":{"field":"s","type":"quantitative","scale":null}}},
{"data":{"name":"mesh"},"mark":{"type":"line","interpolate":"catmull-rom","stroke":"#ababab","strokeWidth":0.9},"encoding":{"detail":{"field":"lat"},"order":{"field":"lon"}}},
{"data":{"name":"mesh"},"mark":{"type":"line","interpolate":"catmull-rom","stroke":"#ababab","strokeWidth":0.9},"encoding":{"detail":{"field":"lon"},"order":{"field":"lat"}}},
{"data":{"name":"loops"},"mark":{"type":"line","interpolate":"basis-closed","stroke":"#0072BD","strokeWidth":2.3},"encoding":{"detail":{"field":"k"},"order":{"field":"i"}}},
{"data":{"name":"streams"},"mark":{"type":"line","interpolate":"basis","stroke":"#0072BD","strokeWidth":2.3},"encoding":{"detail":{"field":"k"},"order":{"field":"i"}}},
{"data":{"name":"redline"},"mark":{"type":"line","interpolate":"basis","stroke":"#ff0000","strokeWidth":4},"encoding":{"order":{"field":"i"}}},
{"data":{"name":"balls"},"transform":[{"filter":"datum.b=='red'"}],"mark":{"type":"point","filled":true,"shape":"circle","color":"#ff0000","opacity":1},"encoding":{"size":{"field":"s","type":"quantitative","scale":null}}},
{"data":{"name":"ballmesh"},"mark":{"type":"line","interpolate":"catmull-rom","stroke":"#b00000","strokeWidth":0.6},"encoding":{"detail":{"field":"lat"},"order":{"field":"lon"}}},
{"data":{"name":"ballmesh"},"mark":{"type":"line","interpolate":"catmull-rom","stroke":"#b00000","strokeWidth":0.6},"encoding":{"detail":{"field":"lon"},"order":{"field":"lat"}}},
{"data":{"name":"shafts"},"mark":{"type":"rule","stroke":"black","strokeWidth":2.5},"encoding":{"x2":{"field":"u2"},"y2":{"field":"v2"}}},
{"data":{"name":"heads"},"mark":{"type":"point","filled":true,"color":"black","opacity":1,"shape":"M0,-1L0.65,1L0,0.55L-0.65,1Z","size":170},"encoding":{"angle":{"field":"a","type":"quantitative","scale":null}}},
{"data":{"name":"ticks"},"mark":{"type":"text","font":"Liberation Sans","fontSize":23,"align":"right","baseline":"middle","color":"#262626"},"encoding":{"text":{"field":"t"}}},
{"data":{"name":"ticks2"},"mark":{"type":"text","font":"Liberation Sans","fontSize":23,"align":"center","baseline":"middle","color":"#262626"},"encoding":{"text":{"field":"t"}}},
{"data":{"name":"letters"},"mark":{"type":"text","font":"Liberation Serif","fontStyle":"italic","fontSize":27,"align":"center","baseline":"middle","color":"#262626"},"encoding":{"text":{"field":"t"}}},
{"data":{"name":"letterz"},"mark":{"type":"text","font":"Liberation Serif","fontStyle":"italic","fontSize":27,"align":"center","baseline":"middle","color":"#262626","angle":270},"encoding":{"text":{"field":"t"}}}
]}
